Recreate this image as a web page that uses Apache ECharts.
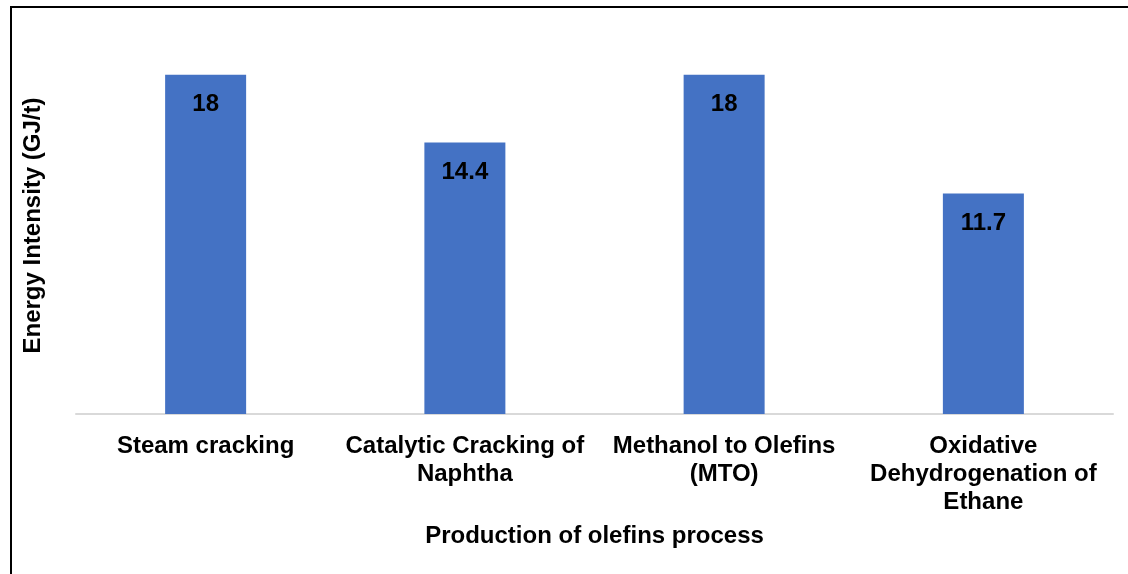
<!DOCTYPE html>
<html>
<head>
<meta charset="utf-8">
<script src="https://cdn.jsdelivr.net/npm/echarts@6/dist/echarts.min.js"></script>
<style>
  html, body { margin: 0; padding: 0; background: #fff; }
  #chart { width: 1128px; height: 574px; position: relative; }
  #frame {
    position: absolute; left: 10px; top: 6px; right: -4px; bottom: -4px;
    border-left: 2px solid #000; border-top: 2px solid #000;
    pointer-events: none; z-index: 10;
  }
</style>
</head>
<body>
<div id="chart"></div>
<div id="frame"></div>
<script>
// Energy intensity of olefin production routes (GJ per tonne)
const categories = [
  'Steam cracking',
  'Catalytic Cracking of\nNaphtha',
  'Methanol to Olefins\n(MTO)',
  'Oxidative\nDehydrogenation of\nEthane'
];
const energyIntensity = [18, 14.4, 18, 11.7];
const xTitle = 'Production of olefins process';
const yTitle = 'Energy Intensity (GJ/t)';

const FONT = '"Liberation Sans", Arial, sans-serif';
const chart = echarts.init(document.getElementById('chart'), null, { renderer: 'canvas' });

chart.setOption({
  animation: false,
  backgroundColor: '#fff',
  grid: { left: 76, right: 15, top: 37, bottom: 160, containLabel: false },
  xAxis: {
    type: 'category',
    data: categories,
    name: xTitle,
    nameLocation: 'middle',
    nameGap: 110,
    nameTextStyle: { fontFamily: FONT, fontSize: 24, fontWeight: 'bold', color: '#000' },
    axisLine: { show: true, lineStyle: { color: '#d9d9d9', width: 2 } },
    axisTick: { show: false },
    axisLabel: {
      interval: 0, margin: 18,
      fontFamily: FONT, fontSize: 24, fontWeight: 'bold', color: '#000', lineHeight: 28
    }
  },
  yAxis: {
    type: 'value',
    min: 0, max: 20,
    name: yTitle,
    nameLocation: 'middle',
    nameGap: 31,
    nameTextStyle: { fontFamily: FONT, fontSize: 24, fontWeight: 'bold', color: '#000' },
    axisLine: { show: false },
    axisTick: { show: false },
    axisLabel: { show: false },
    splitLine: { show: false }
  },
  series: [{
    type: 'bar',
    data: energyIntensity,
    barWidth: 81,
    itemStyle: { color: '#4472C4' },
    label: {
      show: true,
      position: 'insideTop',
      distance: 18,
      fontFamily: FONT, fontSize: 24, fontWeight: 'bold', color: '#000'
    }
  }]
});
</script>
</body>
</html>
